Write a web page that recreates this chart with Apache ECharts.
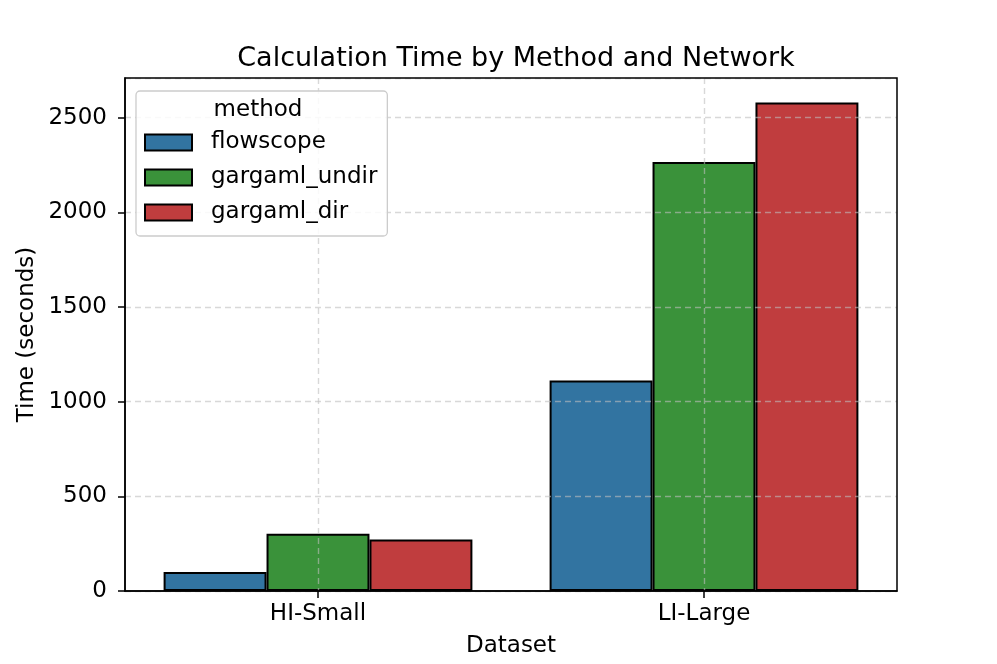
<!DOCTYPE html>
<html>
<head>
<meta charset="utf-8">
<script src="https://cdn.jsdelivr.net/npm/echarts@6/dist/echarts.min.js"></script>
<style>
html,body{margin:0;padding:0;background:#fff;}
#chart{width:997px;height:664px;}
</style>
</head>
<body>
<div id="chart"></div>
<script>
const categories = ['HI-Small', 'LI-Large'];
const methods = ['flowscope', 'gargaml_undir', 'gargaml_dir'];
const flowscope = [100, 1112];
const gargamlUndir = [302, 2265];
const gargamlDir = [272, 2580];
const colors = ['#3274A1', '#3A923A', '#C03D3E'];
const seriesValues = [flowscope, gargamlUndir, gargamlDir];

const FONT = 'DejaVu Sans';
const chart = echarts.init(document.getElementById('chart'), null, {renderer: 'canvas'});

const gridLine = {show: true, alignWithLabel: true, lineStyle: {color: 'rgba(190,190,190,0.6)', type: [6, 4], width: 1.4}};

chart.setOption({
  backgroundColor: '#ffffff',
  animation: false,
  title: {
    text: 'Calculation Time by Method and Network',
    left: 511, top: 40, textAlign: 'center',
    textStyle: {fontFamily: FONT, fontSize: 27, fontWeight: 'normal', color: '#000'}
  },
  grid: {left: 125, right: 100, top: 78, bottom: 73, show: true, borderColor: '#000', borderWidth: 1.5, backgroundColor: 'transparent', z: 4},
  legend: {
    orient: 'vertical', left: 136, top: 91,
    padding: [40, 10, 12, 8],
    itemWidth: 47, itemHeight: 16, itemGap: 12,
    icon: 'rect',
    backgroundColor: 'rgba(255,255,255,0.85)',
    borderColor: '#cccccc', borderWidth: 1.3, borderRadius: 4,
    textStyle: {fontFamily: FONT, fontSize: 23, color: '#000', lineHeight: 23, padding: [0, 0, 0, 14]},
    data: methods
  },
  graphic: [{
    type: 'text', z: 100,
    style: {text: 'method', x: 258, y: 110, fontFamily: FONT, fontSize: 23, fill: '#000', align: 'center', verticalAlign: 'middle'}
  }],
  xAxis: {
    type: 'category', data: categories, z: 3,
    name: 'Dataset', nameLocation: 'middle', nameGap: 44,
    nameTextStyle: {fontFamily: FONT, fontSize: 23, color: '#000'},
    axisLine: {show: true, lineStyle: {color: '#000', width: 1.5}},
    axisTick: {show: true, alignWithLabel: true, length: 7, lineStyle: {color: '#000', width: 1.5}},
    axisLabel: {fontFamily: FONT, fontSize: 23, color: '#000', margin: 12},
    splitLine: gridLine
  },
  yAxis: {
    type: 'value', min: 0, max: 2709, interval: 500, z: 3,
    name: 'Time (seconds)', nameLocation: 'middle', nameGap: 86, nameMoveOverlap: false,
    nameTextStyle: {fontFamily: FONT, fontSize: 23, color: '#000'},
    axisLine: {show: true, lineStyle: {color: '#000', width: 1.5}},
    axisTick: {show: true, length: 7, lineStyle: {color: '#000', width: 1.5}},
    axisLabel: {fontFamily: FONT, fontSize: 23, color: '#000', margin: 18, showMaxLabel: false, formatter: v => String(v)},
    splitLine: gridLine
  },
  series: methods.map((m, i) => ({
    name: m, type: 'bar', data: seriesValues[i],
    barGap: '0%', barCategoryGap: '20%', z: 2,
    itemStyle: {color: colors[i], borderColor: '#000', borderWidth: 2}
  }))
});
</script>
</body>
</html>
